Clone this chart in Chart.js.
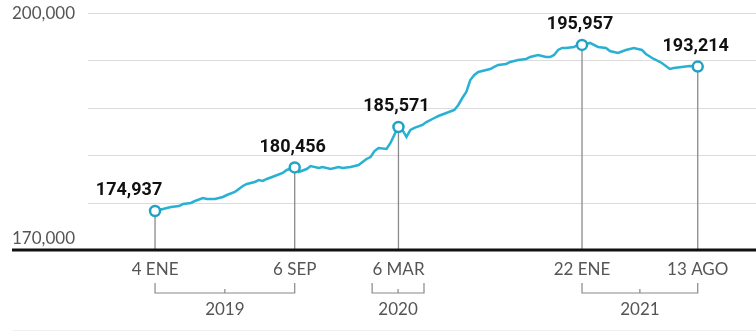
<!DOCTYPE html>
<html>
<head>
<meta charset="utf-8">
<script src="https://cdn.jsdelivr.net/npm/chart.js@4"></script>
<style>
  html, body { margin: 0; padding: 0; background: #fff; }
  #wrap { width: 756px; height: 333px; }
</style>
</head>
<body>
<div id="wrap"><canvas id="chart" width="756" height="333"></canvas></div>
<script>
/* weekly series, week 0 = 4 ENE 2019 (Fridays) */
const weeks = [
  0, 2, 4, 6, 7, 9, 10, 12, 13, 15,
  17, 18, 20, 21, 22, 23, 25, 26, 27, 28,
  30, 32, 33, 35, 36, 38, 39, 41, 42, 44,
  46, 47, 49, 51, 52, 53, 54, 55, 56, 58,
  59, 60, 61, 62, 63, 64, 65, 67, 68, 70,
  71, 73, 75, 76, 77, 78, 79, 80, 81, 83,
  84, 85, 86, 88, 89, 91, 93, 94, 95, 96,
  98, 99, 100, 101, 102, 103, 105, 106, 107, 109,
  111, 113, 114, 116, 118, 120, 122, 123, 125, 127,
  129, 130, 132, 134, 136
];
const values = [
  174937, 175190, 175440, 175570, 175820, 175950, 176200, 176580, 176460, 176460,
  176710, 176960, 177340, 177720, 178100, 178360, 178610, 178860, 178740, 178990,
  179370, 179750, 180130, 180456, 179880, 180250, 180630, 180380, 180510, 180250,
  180510, 180380, 180510, 180760, 181140, 181520, 181770, 182530, 182910, 182790,
  183550, 184600, 185571, 185190, 184310, 185190, 185450, 185830, 186200, 186710,
  186960, 187340, 187720, 188360, 189240, 190000, 191520, 192160, 192530, 192790,
  192910, 193170, 193420, 193550, 193800, 194050, 194180, 194430, 194560, 194690,
  194430, 194430, 194690, 195320, 195570, 195570, 195700, 195950, 195957, 196210,
  195700, 195570, 195190, 194940, 195320, 195570, 195320, 194810, 194180, 193670,
  192910, 193040, 193170, 193290, 193214
];

// highlighted dates
const keyWeeks  = [0, 35, 61, 107, 136];
const keyLabels = ['4 ENE', '6 SEP', '6 MAR', '22 ENE', '13 AGO'];

// year brackets (in weeks)
const yearLabels = ['2019', '2020', '2021'];
const yearFrom   = [0, 54.4, 107];
const yearTo     = [35, 67.4, 136];

// y axis
const gridValues = [176000, 182000, 188000, 194000, 200000];
const yTickValues = [200000, 170000];
const yTickLabels = ['200,000', '170,000'];

const LINE = '#29b1d3';
const fmt = v => String(v).replace(/\B(?=(\d{3})+(?!\d))/g, ',');
const keyIdx = keyWeeks.map(w => weeks.indexOf(w));
const labelDx = [-26, -2, -2, -2, -2];

const decor = {
  id: 'decor',
  beforeDatasetsDraw(chart) {
    const { ctx, chartArea, scales: { x, y } } = chart;
    ctx.save();
    // grid
    ctx.strokeStyle = '#dcdcdc';
    ctx.lineWidth = 1;
    gridValues.forEach(v => {
      const py = Math.round(y.getPixelForValue(v)) + 0.5;
      ctx.beginPath(); ctx.moveTo(chartArea.left, py); ctx.lineTo(756, py); ctx.stroke();
    });
    // drop lines
    ctx.strokeStyle = '#8a8a8a';
    ctx.lineWidth = 1.3;
    keyIdx.forEach(i => {
      const px = x.getPixelForValue(weeks[i]);
      ctx.beginPath(); ctx.moveTo(px, y.getPixelForValue(values[i])); ctx.lineTo(px, y.getPixelForValue(170000)); ctx.stroke();
    });
    // baseline
    const by = y.getPixelForValue(170000);
    ctx.strokeStyle = '#111';
    ctx.lineWidth = 3;
    ctx.beginPath(); ctx.moveTo(12, by); ctx.lineTo(756, by); ctx.stroke();
    // faint bottom rule
    ctx.strokeStyle = '#f0f0f0';
    ctx.lineWidth = 1;
    ctx.beginPath(); ctx.moveTo(12, 330.5); ctx.lineTo(756, 330.5); ctx.stroke();

    // y labels
    ctx.fillStyle = '#555';
    ctx.font = '17px Lato, sans-serif';
    ctx.textAlign = 'left';
    ctx.textBaseline = 'middle';
    yTickValues.forEach((v, k) => {
      const py = y.getPixelForValue(v) + (v === 170000 ? -11 : 1);
      ctx.fillText(yTickLabels[k], 12, py);
    });

    // x labels
    ctx.textAlign = 'center';
    keyIdx.forEach((i, k) => {
      ctx.fillText(keyLabels[k], x.getPixelForValue(weeks[i]), by + 20);
    });

    // year brackets
    ctx.strokeStyle = '#888';
    ctx.lineWidth = 1.2;
    yearLabels.forEach((lbl, k) => {
      const x0 = x.getPixelForValue(yearFrom[k]);
      const x1 = x.getPixelForValue(yearTo[k]);
      const top = by + 33, bot = by + 43;
      const mid = (x0 + x1) / 2;
      ctx.beginPath();
      ctx.moveTo(x0, top); ctx.lineTo(x0, bot); ctx.lineTo(x1, bot); ctx.lineTo(x1, top);
      ctx.moveTo(mid, bot); ctx.lineTo(mid, bot - 4);
      ctx.stroke();
      ctx.fillText(lbl, mid, by + 60);
    });
    ctx.restore();
  },
  afterDatasetsDraw(chart) {
    const { ctx, scales: { x, y } } = chart;
    ctx.save();
    ctx.fillStyle = '#111';
    ctx.font = 'bold 18px Roboto, sans-serif';
    ctx.textAlign = 'center';
    ctx.textBaseline = 'middle';
    keyIdx.forEach((i, k) => {
      const px = x.getPixelForValue(weeks[i]) + labelDx[k];
      const py = y.getPixelForValue(values[i]) - 20;
      ctx.fillText(fmt(values[i]), px, py);
    });
    ctx.restore();
  }
};

new Chart(document.getElementById('chart'), {
  type: 'line',
  data: {
    datasets: [{
      data: weeks.map((w, i) => ({ x: w, y: values[i] })),
      borderColor: LINE,
      borderWidth: 2.5,
      tension: 0,
      pointRadius: c => keyIdx.includes(c.dataIndex) ? 5 : 0,
      pointBackgroundColor: '#fff',
      pointBorderColor: '#1fa3c4',
      pointBorderWidth: 2.5,
      fill: false
    }]
  },
  options: {
    responsive: false,
    animation: false,
    layout: { autoPadding: false, padding: { left: 88, right: 0, top: 13, bottom: 83 } },
    plugins: { legend: { display: false }, tooltip: { enabled: false } },
    scales: {
      x: { type: 'linear', display: false, min: -16.8, max: 150.6 },
      y: { display: false, min: 170000, max: 200000 }
    }
  },
  plugins: [decor]
});
</script>
</body>
</html>
